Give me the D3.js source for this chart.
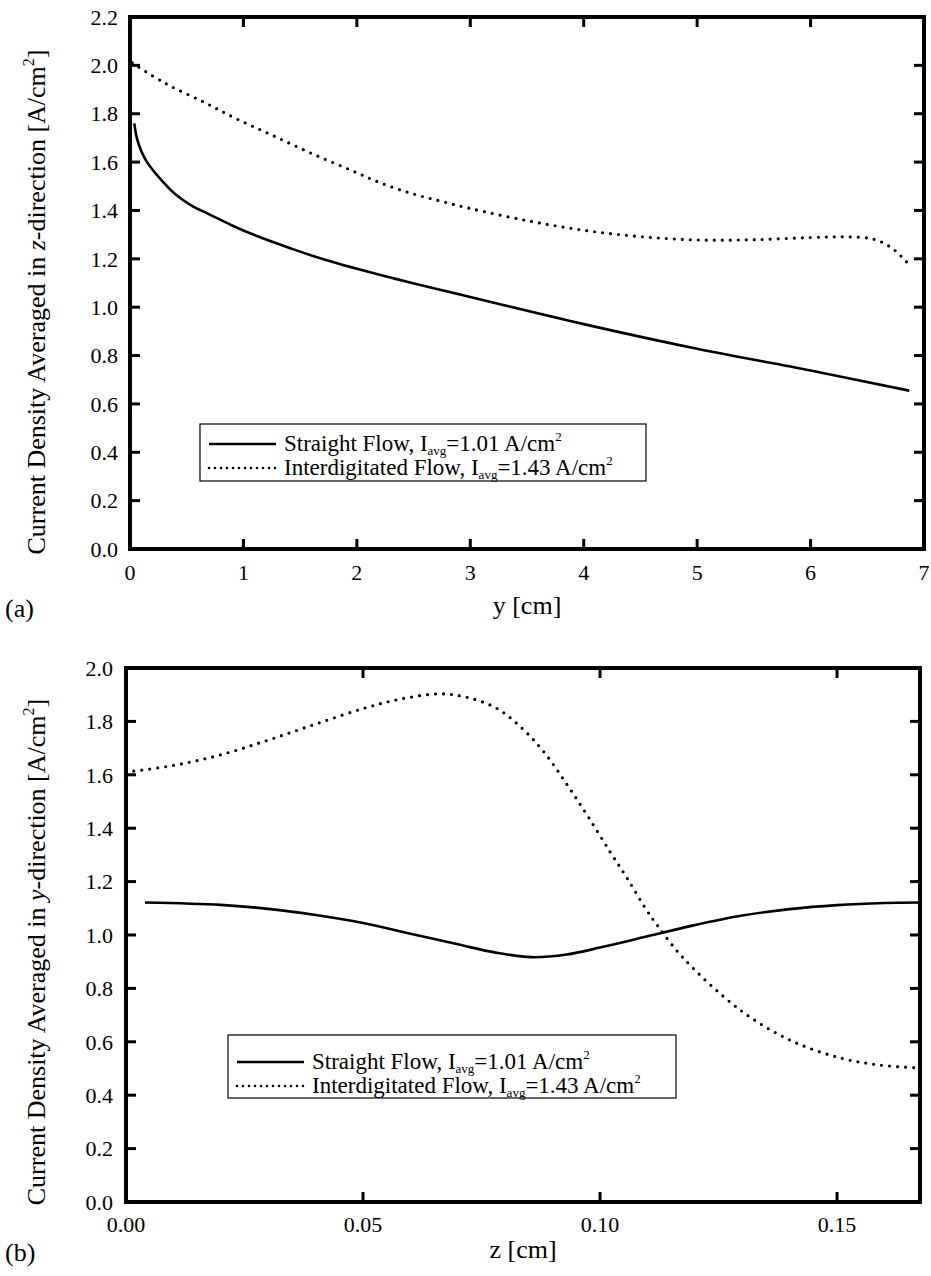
<!DOCTYPE html>
<html>
<head>
<meta charset="utf-8">
<script src="https://cdn.jsdelivr.net/npm/d3@7"></script>
<style>
  html, body { margin: 0; padding: 0; background: #fff; }
  svg { display: block; }
  text { font-family: "Liberation Serif", "Times New Roman", serif; fill: #000; }
</style>
</head>
<body>
<svg id="chart" width="931" height="1276" font-family="Liberation Serif, Times New Roman, serif"></svg>
<script>
// ---------- Data (a): averaged in z-direction vs y [cm]
const aStraightY = [0.038, 0.06, 0.1, 0.15, 0.25, 0.40, 0.55, 0.69, 0.9, 1.13, 1.4, 1.72, 2.25, 3, 4, 5, 6, 6.87];
const aStraightV = [1.76, 1.70, 1.645, 1.60, 1.54, 1.467, 1.418, 1.386, 1.338, 1.292, 1.246, 1.196, 1.128, 1.042, 0.93, 0.828, 0.738, 0.655];
const aInterY = [0.02, 0.31, 0.66, 0.93, 1.25, 1.60, 1.955, 2.23, 2.5, 2.75, 3, 3.5, 4, 4.5, 5, 5.5, 6, 6.3, 6.55, 6.7, 6.8, 6.87];
const aInterV = [2.01, 1.926, 1.846, 1.781, 1.712, 1.636, 1.565, 1.51, 1.468, 1.437, 1.408, 1.358, 1.318, 1.292, 1.278, 1.279, 1.288, 1.291, 1.282, 1.25, 1.21, 1.175];
const aXTicks = [0, 1, 2, 3, 4, 5, 6, 7];
const aYTicks = [0.0, 0.2, 0.4, 0.6, 0.8, 1.0, 1.2, 1.4, 1.6, 1.8, 2.0, 2.2];

// ---------- Data (b): averaged in y-direction vs z [cm]
const bStraightZ = [0.004, 0.02, 0.03, 0.04, 0.05, 0.06, 0.07, 0.078, 0.0855, 0.093, 0.1, 0.11, 0.12, 0.13, 0.14, 0.15, 0.16, 0.1675];
const bStraightV = [1.122, 1.113, 1.098, 1.075, 1.045, 1.005, 0.965, 0.934, 0.917, 0.927, 0.953, 0.995, 1.037, 1.073, 1.097, 1.112, 1.12, 1.122];
const bInterZ = [0.0, 0.01, 0.02, 0.03, 0.04, 0.05, 0.058, 0.0662, 0.072, 0.0782, 0.0838, 0.0884, 0.093, 0.0975, 0.1021, 0.1056, 0.1098, 0.1123, 0.1176, 0.1295, 0.14, 0.1506, 0.159, 0.1675];
const bInterV = [1.61, 1.635, 1.675, 1.73, 1.79, 1.848, 1.884, 1.903, 1.89, 1.849, 1.77, 1.68, 1.564, 1.443, 1.312, 1.216, 1.094, 1.031, 0.913, 0.72, 0.607, 0.54, 0.513, 0.502];
const bXTicks = [0.00, 0.05, 0.10, 0.15];
const bYTicks = [0.0, 0.2, 0.4, 0.6, 0.8, 1.0, 1.2, 1.4, 1.6, 1.8, 2.0];

const legendLabels = [
  {name: "Straight Flow, I", val: "=1.01 A/cm", dash: null},
  {name: "Interdigitated Flow, I", val: "=1.43 A/cm", dash: "0,6"}
];

const svg = d3.select("#chart");

function panel(cfg) {
  const g = svg.append("g");
  const x = d3.scaleLinear().domain(cfg.xDomain).range([cfg.left, cfg.right]);
  const y = d3.scaleLinear().domain(cfg.yDomain).range([cfg.bottom, cfg.top]);
  const tick = 10;

  // curves
  const line = d3.line().x(d => x(d[0])).y(d => y(d[1])).curve(d3.curveCatmullRom.alpha(0.5));
  g.append("path").datum(d3.zip(cfg.sX, cfg.sV))
    .attr("d", line).attr("fill", "none").attr("stroke", "#000").attr("stroke-width", 2.6);
  g.append("path").datum(d3.zip(cfg.iX, cfg.iV))
    .attr("d", line).attr("fill", "none").attr("stroke", "#000").attr("stroke-width", 3.2)
    .attr("stroke-linecap", "round").attr("stroke-dasharray", "0,8");

  // ticks (inward, all four sides)
  const tg = g.append("g").attr("stroke", "#000").attr("stroke-width", 3);
  cfg.xTicks.forEach(t => {
    tg.append("line").attr("x1", x(t)).attr("x2", x(t)).attr("y1", cfg.bottom).attr("y2", cfg.bottom - tick);
    tg.append("line").attr("x1", x(t)).attr("x2", x(t)).attr("y1", cfg.top).attr("y2", cfg.top + tick);
  });
  cfg.yTicks.forEach(t => {
    tg.append("line").attr("y1", y(t)).attr("y2", y(t)).attr("x1", cfg.left).attr("x2", cfg.left + tick);
    tg.append("line").attr("y1", y(t)).attr("y2", y(t)).attr("x1", cfg.right).attr("x2", cfg.right - tick);
  });

  // frame
  g.append("rect").attr("x", cfg.left).attr("y", cfg.top)
    .attr("width", cfg.right - cfg.left).attr("height", cfg.bottom - cfg.top)
    .attr("fill", "none").attr("stroke", "#000").attr("stroke-width", 4);

  // tick labels
  cfg.xTicks.forEach(t => {
    g.append("text").attr("x", x(t)).attr("y", cfg.bottom + cfg.xLabelOff)
      .attr("text-anchor", "middle").attr("font-size", 22).text(cfg.xFmt(t));
  });
  cfg.yTicks.forEach(t => {
    g.append("text").attr("x", cfg.left - cfg.yLabelOff).attr("y", y(t)).attr("dy", "0.35em")
      .attr("text-anchor", "end").attr("font-size", 22).text(d3.format(".1f")(t));
  });

  // x title
  g.append("text").attr("x", (cfg.left + cfg.right) / 2).attr("y", cfg.xTitleY)
    .attr("text-anchor", "middle").attr("font-size", 26).text(cfg.xTitle);
  // panel letter
  g.append("text").attr("x", 5).attr("y", cfg.letterY).attr("font-size", 26).text(cfg.letter);

  // y title
  const yt = g.append("text").attr("transform", `translate(${cfg.yTitleX},${cfg.yTitleMid}) rotate(-90)`)
    .attr("text-anchor", "middle").attr("font-size", 26);
  yt.append("tspan").text("Current Density Averaged in ");
  yt.append("tspan").attr("font-style", "italic").text(cfg.dirVar);
  yt.append("tspan").text("-direction [A/cm");
  yt.append("tspan").attr("font-size", 16).attr("dy", -11).text("2");
  yt.append("tspan").attr("dy", 11).text("]");

  // legend
  const L = cfg.legend;
  g.append("rect").attr("x", L.x).attr("y", L.y).attr("width", L.w).attr("height", L.h)
    .attr("fill", "#fff").attr("stroke", "#000").attr("stroke-width", 1.2);
  legendLabels.forEach((d, i) => {
    const by = L.y + L.base0 + i * L.step;
    const ly = by - 7;
    const ln = g.append("line").attr("x1", L.x + 9).attr("x2", L.x + 76).attr("y1", ly).attr("y2", ly)
      .attr("stroke", "#000").attr("stroke-width", 2.6);
    if (d.dash) ln.attr("stroke-dasharray", d.dash).attr("stroke-linecap", "round");
    const t = g.append("text").attr("x", L.x + 84).attr("y", by).attr("font-size", 23);
    t.append("tspan").text(d.name);
    t.append("tspan").attr("font-size", 13).attr("dy", 4).text("avg");
    t.append("tspan").attr("dy", -4).text(d.val);
    t.append("tspan").attr("font-size", 13).attr("dy", -10).text("2");
  });
}

panel({
  left: 130, right: 924, top: 17, bottom: 549,
  xDomain: [0, 7], yDomain: [0, 2.2],
  sX: aStraightY, sV: aStraightV, iX: aInterY, iV: aInterV,
  xTicks: aXTicks, yTicks: aYTicks, xFmt: d3.format("d"),
  xLabelOff: 31, yLabelOff: 12,
  xTitle: "y [cm]", xTitleY: 614, letter: "(a)", letterY: 617,
  yTitleX: 45, yTitleMid: 302, dirVar: "z",
  legend: {x: 200, y: 424, w: 446, h: 57, base0: 27, step: 24}
});

panel({
  left: 126, right: 920, top: 668, bottom: 1202,
  xDomain: [0, 0.1675], yDomain: [0, 2.0],
  sX: bStraightZ, sV: bStraightV, iX: bInterZ, iV: bInterV,
  xTicks: bXTicks, yTicks: bYTicks, xFmt: d3.format(".2f"),
  xLabelOff: 30, yLabelOff: 13,
  xTitle: "z [cm]", xTitleY: 1258, letter: "(b)", letterY: 1261,
  yTitleX: 45, yTitleMid: 952, dirVar: "y",
  legend: {x: 228, y: 1035, w: 448, h: 63, base0: 34, step: 24}
});
</script>
</body>
</html>
